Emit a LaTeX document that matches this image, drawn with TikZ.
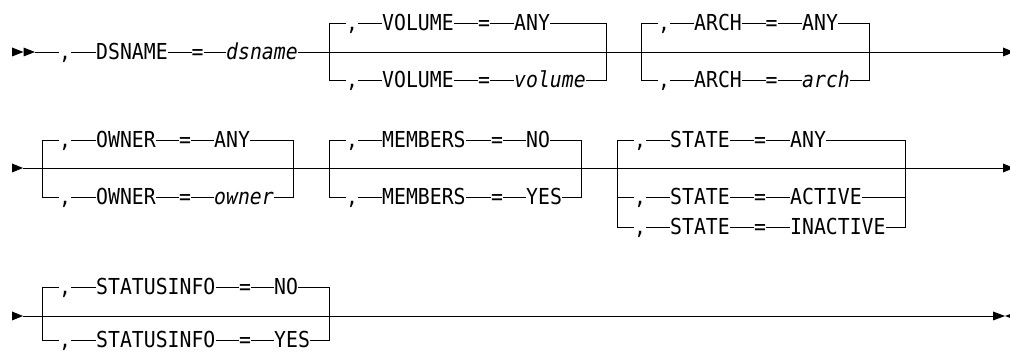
\documentclass[tikz,border=0pt]{standalone}
\usepackage{fontspec}
\newfontfamily\rrfont[FakeStretch=0.9]{DejaVu Sans Mono}

\begin{document}
\begin{tikzpicture}[x=1pt,y=-1pt,
  tok/.style={anchor=west,inner xsep=0pt,inner ysep=0pt,text height=16pt,text depth=0pt,font=\rrfont\fontsize{22}{26}\selectfont},
  var/.style={tok,font=\rrfont\fontsize{22}{26}\selectfont\itshape},
  rail/.style={line width=0.9pt},
  tip/.style={fill=black}]
\useasboundingbox (0,0) rectangle (1010,352);

% row 1
\fill[tip] (12,47.5)--(23.5,52)--(12,56.5)--cycle;
\fill[tip] (23.5,47.5)--(35,52)--(23.5,56.5)--cycle;
\coordinate (s1) at (35,52);
\node[tok] (c1) at (59,52) {,};
\node[tok] (dsn) at (96,52) {DSNAME};
\node[tok] (e1) at (191.5,52) {=};
\node[var] (dsv) at (226,52) {dsname};
\coordinate (t1) at (1003,52);
\draw[rail] (s1)--(c1)--(dsn)--(e1)--(dsv)--(t1);
\fill[tip] (1003,47.5)--(1014,52)--(1003,56.5)--cycle;

\node[tok] (vc1) at (346,23) {,};
\node[tok] (vk1) at (382,23) {VOLUME};
\node[tok] (ve1) at (478,23) {=};
\node[tok] (vv1) at (514,23) {ANY};
\node[tok] (vc2) at (346,80) {,};
\node[tok] (vk2) at (382,80) {VOLUME};
\node[tok] (ve2) at (478,80) {=};
\node[var] (vv2) at (514,80) {volume};
\coordinate (vlb) at (329,80);
\coordinate (vrb) at (606,80);
\draw[rail] (vc1)-|(vlb)--(vc2);
\draw[rail] (vv1)-|(vrb)--(vv2);
\draw[rail] (vc1)--(vk1)--(ve1)--(vv1);
\draw[rail] (vc2)--(vk2)--(ve2)--(vv2);

\node[tok] (ac1) at (658,23) {,};
\node[tok] (ak1) at (694,23) {ARCH};
\node[tok] (ae1) at (765.5,23) {=};
\node[tok] (av1) at (802,23) {ANY};
\node[tok] (ac2) at (658,80) {,};
\node[tok] (ak2) at (694,80) {ARCH};
\node[tok] (ae2) at (765.5,80) {=};
\node[var] (av2) at (802,80) {arch};
\coordinate (alb) at (641,80);
\coordinate (arb) at (869,80);
\draw[rail] (ac1)-|(alb)--(ac2);
\draw[rail] (av1)-|(arb)--(av2);
\draw[rail] (ac1)--(ak1)--(ae1)--(av1);
\draw[rail] (ac2)--(ak2)--(ae2)--(av2);

% row 2
\fill[tip] (12,163.5)--(23,168)--(12,172.5)--cycle;
\coordinate (s2) at (23,168);
\coordinate (t2) at (1003,168);
\draw[rail] (s2)--(t2);
\fill[tip] (1003,163.5)--(1014,168)--(1003,172.5)--cycle;

\node[tok] (oc1) at (59,140) {,};
\node[tok] (ok1) at (96,140) {OWNER};
\node[tok] (oe1) at (179,140) {=};
\node[tok] (ov1) at (214,140) {ANY};
\node[tok] (oc2) at (59,197) {,};
\node[tok] (ok2) at (96,197) {OWNER};
\node[tok] (oe2) at (179,197) {=};
\node[var] (ov2) at (214,197) {owner};
\coordinate (olb) at (42,197);
\coordinate (orb) at (293,197);
\draw[rail] (oc1)-|(olb)--(oc2);
\draw[rail] (ov1)-|(orb)--(ov2);
\draw[rail] (oc1)--(ok1)--(oe1)--(ov1);
\draw[rail] (oc2)--(ok2)--(oe2)--(ov2);

\node[tok] (mc1) at (346,140) {,};
\node[tok] (mk1) at (382,140) {MEMBERS};
\node[tok] (me1) at (491,140) {=};
\node[tok] (mv1) at (526,140) {NO};
\node[tok] (mc2) at (346,197) {,};
\node[tok] (mk2) at (382,197) {MEMBERS};
\node[tok] (me2) at (491,197) {=};
\node[tok] (mv2) at (526,197) {YES};
\coordinate (mlb) at (329,197);
\coordinate (mrb) at (581,197);
\draw[rail] (mc1)-|(mlb)--(mc2);
\draw[rail] (mv1)-|(mrb)--(mv2);
\draw[rail] (mc1)--(mk1)--(me1)--(mv1);
\draw[rail] (mc2)--(mk2)--(me2)--(mv2);

\node[tok] (sc1) at (634,140) {,};
\node[tok] (sk1) at (670,140) {STATE};
\node[tok] (se1) at (754,140) {=};
\node[tok] (sv1) at (790,140) {ANY};
\node[tok] (sc2) at (634,197) {,};
\node[tok] (sk2) at (670,197) {STATE};
\node[tok] (se2) at (754,197) {=};
\node[tok] (sv2) at (790,197) {ACTIVE};
\node[tok] (sc3) at (634,227) {,};
\node[tok] (sk3) at (670,227) {STATE};
\node[tok] (se3) at (754,227) {=};
\node[tok] (sv3) at (790,227) {INACTIVE};
\coordinate (sl2) at (617,197);
\coordinate (slb) at (617,227);
\coordinate (sr2) at (905,197);
\coordinate (srb) at (905,227);
\draw[rail] (sc1)-|(slb)--(sc3);
\draw[rail] (sv1)-|(srb)--(sv3);
\draw[rail] (sl2)--(sc2);
\draw[rail] (sv2)--(sr2);
\draw[rail] (sc1)--(sk1)--(se1)--(sv1);
\draw[rail] (sc2)--(sk2)--(se2)--(sv2);
\draw[rail] (sc3)--(sk3)--(se3)--(sv3);

% row 3
\fill[tip] (12,311.5)--(23,316)--(12,320.5)--cycle;
\coordinate (s3) at (23,316);
\coordinate (t3) at (993,316);
\draw[rail] (s3)--(t3);
\fill[tip] (993,311.5)--(1005,316)--(993,320.5)--cycle;
\fill[tip] (1017,311.5)--(1005,316)--(1017,320.5)--cycle;

\node[tok] (ic1) at (59,287) {,};
\node[tok] (ik1) at (96,287) {STATUSINFO};
\node[tok] (ie1) at (239,287) {=};
\node[tok] (iv1) at (274,287) {NO};
\node[tok] (ic2) at (59,340) {,};
\node[tok] (ik2) at (96,340) {STATUSINFO};
\node[tok] (ie2) at (239,340) {=};
\node[tok] (iv2) at (274,340) {YES};
\coordinate (ilb) at (42,340);
\coordinate (irb) at (329,340);
\draw[rail] (ic1)-|(ilb)--(ic2);
\draw[rail] (iv1)-|(irb)--(iv2);
\draw[rail] (ic1)--(ik1)--(ie1)--(iv1);
\draw[rail] (ic2)--(ik2)--(ie2)--(iv2);
\end{tikzpicture}
\end{document}
